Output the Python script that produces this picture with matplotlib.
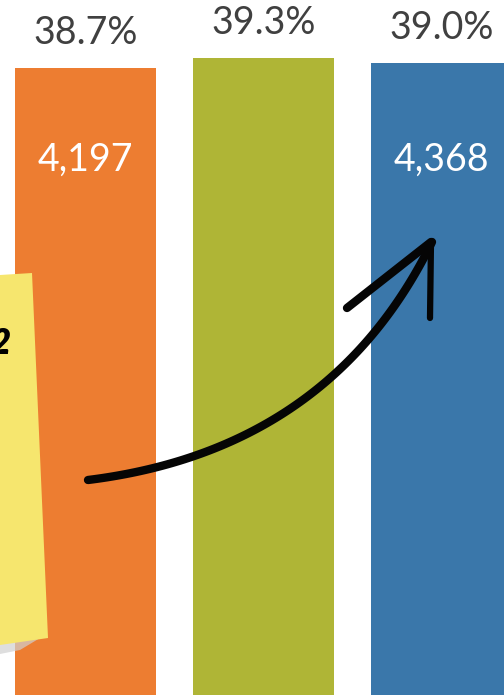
import numpy as np
import matplotlib
matplotlib.use('Agg')
import matplotlib.pyplot as plt
from matplotlib.patches import Polygon

# datos
categorias = ['A', 'B', 'C']
porcentajes = [38.7, 39.3, 39.0]
conteos = [4197, None, 4368]
colores = ['#ED7D31', '#AFB536', '#3A77AA']

plt.rcParams['font.family'] = ['Lato', 'DejaVu Sans']

fig = plt.figure(figsize=(5.04, 6.95), dpi=100)
ax = fig.add_axes([0, 0, 1, 1])

x = np.arange(len(categorias))
ax.bar(x, porcentajes, width=0.792, color=colores, zorder=1)

# escala: 0.6 pts = 10 px
ax.set_ylim(1.08, 42.78)
ax.set_xlim(-0.480, 2.351)
ax.axis('off')

for xi, p, c in zip(x, porcentajes, conteos):
    ax.annotate(f'{p:.1f}%', (xi, p), xytext=(0, 25), textcoords='offset points',
                ha='center', va='center', fontsize=27, color='#404040')
    if c is not None:
        ax.text(xi, 33.2, f'{c:,}', ha='center', va='center',
                fontsize=27, color='white')

# capa de pixeles para la nota y la flecha
ov = fig.add_axes([0, 0, 1, 1])
ov.set_xlim(0, 504)
ov.set_ylim(695, 0)
ov.axis('off')
ov.patch.set_alpha(0)

sombra = Polygon([(0, 640), (40, 638), (20, 650), (0, 654)], closed=True,
                 color='#d0d0d0', alpha=0.7, lw=0)
ov.add_patch(sombra)
nota = Polygon([(0, 275), (32, 273), (48, 638), (0, 645)], closed=True,
               color='#F6E66E', lw=0)
ov.add_patch(nota)
ov.text(11, 344, '2', ha='right', va='center', fontsize=25,
        fontweight='heavy', fontstyle='italic', color='black')

# flecha dibujada
t = np.linspace(0, 1, 100)
p0, p1, p2 = np.array([88, 480]), np.array([330, 450]), np.array([432, 242])
curva = np.outer((1 - t) ** 2, p0) + np.outer(2 * t * (1 - t), p1) + np.outer(t ** 2, p2)
ov.plot(curva[:, 0], curva[:, 1], color='#050505', lw=6, solid_capstyle='round')
ov.plot([347, 431], [308, 242], color='#050505', lw=6, solid_capstyle='round')
ov.plot([431, 430], [242, 318], color='#050505', lw=4.5, solid_capstyle='round')

fig.savefig('out.png', dpi=100)
